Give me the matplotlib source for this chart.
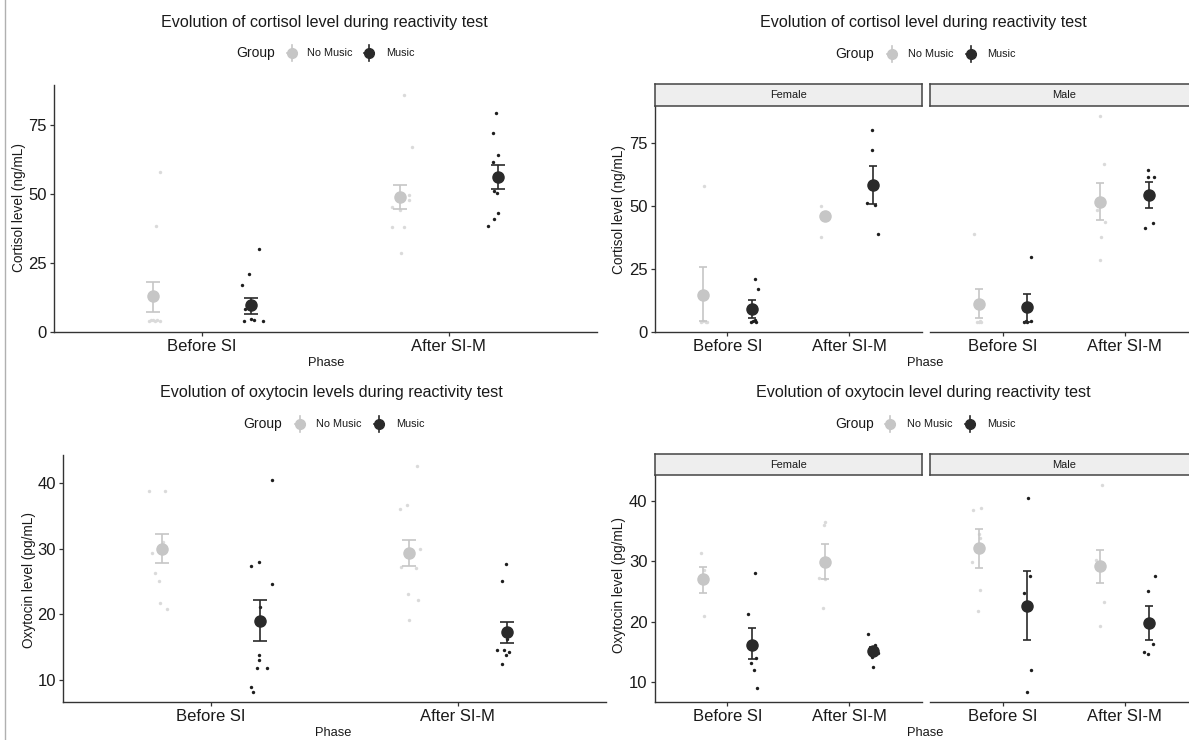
import matplotlib
matplotlib.use("Agg")
import matplotlib.pyplot as plt
import numpy as np

plt.rcParams['font.family'] = ['Liberation Sans', 'DejaVu Sans']

W, H = 1189, 740

phases = ["Before SI", "After SI-M"]
groups = ["No Music", "Music"]

# order of every list below: No Music/Before, Music/Before, No Music/After, Music/After
# --- cortisol, all subjects ---
cort_all_pts = [[57.8, 38.5, 4.0, 4.1, 4.3, 3.9, 4.2, 4.0],
                [30.1, 21.1, 17.1, 8.4, 4.0, 4.5, 4.0, 4.2],
                [85.8, 67.1, 49.6, 47.9, 45.4, 44.2, 38.0, 38.0, 28.7],
                [79.5, 72.2, 64.2, 61.4, 51.2, 50.2, 43.0, 40.9, 38.5]]
cort_all_jit = [[0.028, 0.012, -0.016, 0.0, 0.019, 0.031, -0.008, 0.008],
                [0.031, -0.008, -0.039, -0.026, -0.031, -0.003, 0.048, 0.01],
                [0.018, 0.051, 0.038, 0.038, -0.03, 0.0, -0.03, 0.018, 0.004],
                [-0.01, -0.023, 0.0, -0.02, -0.017, -0.005, -0.003, -0.016, -0.04]]
cort_all_mean = [12.9, 9.6, 48.8, 56.2]
cort_all_lo = [7.2, 6.6, 44.5, 51.8]
cort_all_hi = [18.1, 12.4, 53.2, 60.6]

# --- cortisol, female ---
cort_fem_pts = [[57.8, 4.0, 4.1, 3.9, 4.0],
                [21.0, 17.1, 4.0, 4.2, 4.6, 3.9],
                [49.7, 37.7, 46.2, 47.6, 46.9, 46.1],
                [79.8, 72.2, 51.1, 50.1, 38.7]]
cort_fem_jit = [[0.01, -0.02, 0.0, 0.02, 0.03],
                [0.027, 0.049, -0.01, 0.01, 0.027, 0.035],
                [-0.033, -0.033, -0.01, 0.01, 0.0, 0.02],
                [-0.014, -0.008, -0.049, 0.014, 0.038]]
cort_fem_mean = [14.7, 9.0, 45.7, 58.3]
cort_fem_lo = [4.1, 5.4, 44.4, 50.7]
cort_fem_hi = [25.7, 12.4, 47.0, 65.8]

# --- cortisol, male ---
cort_male_pts = [[38.6, 3.9, 4.0, 4.2, 4.0],
                 [29.8, 4.0, 4.2, 3.9, 4.1],
                 [85.4, 66.7, 48.2, 43.6, 37.7, 28.5],
                 [64.3, 61.4, 61.4, 41.0, 43.0]]
cort_male_jit = [[-0.041, -0.01, 0.0, 0.015, 0.02],
                 [0.027, -0.027, 0.027, 0.0, -0.014],
                 [-0.005, 0.027, -0.027, 0.041, 0.005, 0.0],
                 [-0.008, -0.008, 0.046, -0.03, 0.038]]
cort_male_mean = [11.0, 9.8, 51.5, 54.3]
cort_male_lo = [5.5, 3.9, 44.3, 49.2]
cort_male_hi = [17.1, 15.0, 58.8, 59.5]

# --- oxytocin, all subjects ---
oxy_all_pts = [[38.8, 38.8, 29.3, 26.3, 25.1, 21.7, 20.8, 31.0],
               [40.5, 28.0, 27.4, 24.7, 21.2, 13.8, 13.05, 11.9, 11.9, 9.0, 8.1],
               [42.6, 36.7, 36.1, 30.0, 27.2, 27.1, 23.1, 22.2, 19.2],
               [27.7, 25.1, 16.2, 14.6, 14.6, 14.3, 13.8, 12.4]]
oxy_all_jit = [[-0.05, 0.013, -0.04, -0.027, -0.01, -0.007, 0.023, 0.005],
               [0.048, -0.006, -0.037, 0.045, 0.0, -0.006, -0.006, -0.014, 0.026, -0.04, -0.03],
               [0.035, -0.008, -0.035, 0.046, -0.031, 0.03, -0.004, 0.039, 0.001],
               [-0.006, -0.022, 0.0, -0.04, -0.012, 0.006, -0.006, -0.022]]
oxy_all_mean = [30.0, 19.0, 29.4, 17.3]
oxy_all_lo = [27.9, 16.0, 27.4, 15.7]
oxy_all_hi = [32.3, 22.2, 31.3, 18.9]

# --- oxytocin, female ---
oxy_fem_pts = [[31.4, 21.0, 27.5, 28.6],
               [28.1, 21.2, 13.2, 13.9, 12.0, 9.0],
               [36.5, 36.0, 27.2, 22.3, 27.0],
               [17.9, 16.2, 14.2, 14.8, 15.2, 12.5]]
oxy_fem_jit = [[-0.016, 0.011, -0.01, 0.01],
               [0.025, -0.03, -0.003, 0.036, 0.022, 0.044],
               [0.003, -0.005, -0.044, -0.016, 0.0],
               [-0.047, 0.014, -0.014, 0.036, -0.027, -0.005]]
oxy_fem_mean = [27.0, 16.2, 29.8, 15.1]
oxy_fem_lo = [24.7, 13.8, 27.0, 14.4]
oxy_fem_hi = [29.1, 19.0, 32.8, 15.8]

# --- oxytocin, male ---
oxy_male_pts = [[38.5, 38.8, 29.8, 25.3, 21.7, 34.5, 33.9],
                [40.4, 27.5, 24.8, 12.0, 8.3],
                [42.6, 30.2, 23.2, 19.3, 29.5],
                [27.6, 25.1, 16.3, 14.9, 14.6]]
oxy_male_jit = [[-0.044, 0.022, -0.052, 0.011, -0.005, 0.0, 0.01],
                [0.008, 0.022, -0.027, 0.027, 0.0],
                [0.014, -0.036, 0.027, 0.0, 0.0],
                [0.047, -0.008, 0.038, -0.036, -0.011]]
oxy_male_mean = [32.1, 22.6, 29.2, 19.7]
oxy_male_lo = [28.9, 16.9, 26.4, 16.9]
oxy_male_hi = [35.3, 28.4, 31.9, 22.5]

raw_col = ['#dadada', '#1e1e1e']
mean_col = ['#c6c6c6', '#2a2a2a']
axis_col = '#333333'
text_col = '#1a1a1a'

fig = plt.figure(figsize=(W / 100, H / 100), dpi=100)


def add_ax(x0, x1, y0, y1):
    return fig.add_axes([x0 / W, 1 - y1 / H, (x1 - x0) / W, (y1 - y0) / H])


def ftext(x, y, s, **kw):
    fig.text(x / W, 1 - y / H, s, color=text_col, **kw)


def draw_panel(ax, pts, jit, mean, lo, hi, ylim, yticks, show_y, cap):
    for i in range(4):
        g = i % 2
        xc = i // 2 + 1 + (-0.2 if g == 0 else 0.2)
        ax.scatter(xc + np.array(jit[i]), pts[i], s=6, color=raw_col[g],
                   linewidths=0, zorder=2)
        ax.errorbar(xc, mean[i], yerr=[[mean[i] - lo[i]], [hi[i] - mean[i]]],
                    fmt='o', ms=8, color=mean_col[g], ecolor=mean_col[g],
                    elinewidth=1.2, capthick=1.2, capsize=cap, zorder=3)
    ax.set_xlim(0.4, 2.6)
    ax.set_ylim(*ylim)
    ax.set_xticks([1, 2])
    ax.set_xticklabels(phases)
    for s in ['top', 'right']:
        ax.spines[s].set_visible(False)
    ax.spines['bottom'].set_color(axis_col)
    ax.spines['bottom'].set_linewidth(1.0)
    if show_y:
        ax.spines['left'].set_color(axis_col)
        ax.spines['left'].set_linewidth(1.0)
        ax.set_yticks(yticks)
    else:
        ax.spines['left'].set_visible(False)
        ax.set_yticks([])
    ax.tick_params(length=3, width=0.9, color=axis_col, labelsize=12,
                   labelcolor=text_col, pad=2)
    ax.patch.set_alpha(0)


def strip(x0, x1, y0, y1, label):
    s = add_ax(x0, x1, y0, y1)
    s.set_facecolor('#eeeeee')
    s.set_xticks([])
    s.set_yticks([])
    for sp in s.spines.values():
        sp.set_color('#444444')
        sp.set_linewidth(1.1)
    s.text(0.5, 0.5, label, transform=s.transAxes, ha='center', va='center',
           fontsize=7.9, color=text_col)


def legend(gx, y, k1, t1, k2, t2):
    ftext(gx, y, "Group", fontsize=10, ha='center', va='center')
    for kx, g in [(k1, 0), (k2, 1)]:
        bg.plot([kx, kx], [y - 8, y + 8], color=mean_col[g], lw=1.2)
        bg.plot([kx - 5, kx + 5], [y, y], color=mean_col[g], lw=1.2)
        bg.plot(kx, y, 'o', ms=7, color=mean_col[g])
    ftext(t1, y, "No Music", fontsize=7.8, ha='left', va='center')
    ftext(t2, y, "Music", fontsize=7.8, ha='left', va='center')


# background overlay in pixel coords for border and legend keys
bg = fig.add_axes([0, 0, 1, 1])
bg.set_xlim(0, W)
bg.set_ylim(H, 0)
bg.axis('off')
bg.plot([5, 5], [0, H], color='#b0b0b0', lw=1)

cort_lim = (-0.1, 89.5)
oxy_lim_l = (6.64, 44.3)
oxy_lim_r = (6.7, 44.25)
cap_big = 5.3
cap_small = 2.8
title_fs = 11.6
lab_fs = 9.8

# top-left: cortisol, all subjects
ax = add_ax(54, 597, 85, 332)
draw_panel(ax, cort_all_pts, cort_all_jit, cort_all_mean, cort_all_lo, cort_all_hi,
           cort_lim, [0, 25, 50, 75], True, cap_big)
ftext(324, 22, "Evolution of cortisol level during reactivity test", fontsize=title_fs,
      ha='center', va='center')
legend(256, 53, 292, 307, 369, 386)
ftext(19, 208, "Cortisol level (ng/mL)", fontsize=lab_fs, rotation=90,
      ha='center', va='center')
ftext(326, 363, "Phase", fontsize=9.3, ha='center', va='center')

# top-right: cortisol by sex
ax = add_ax(654.5, 922, 106, 332)
draw_panel(ax, cort_fem_pts, cort_fem_jit, cort_fem_mean, cort_fem_lo, cort_fem_hi,
           cort_lim, [0, 25, 50, 75], True, cap_small)
ax = add_ax(930, 1197.5, 106, 332)
draw_panel(ax, cort_male_pts, cort_male_jit, cort_male_mean, cort_male_lo, cort_male_hi,
           cort_lim, [0, 25, 50, 75], False, cap_small)
strip(654.5, 922, 84, 106, "Female")
strip(930, 1197.5, 84, 106, "Male")
ftext(923, 23, "Evolution of cortisol level during reactivity test", fontsize=title_fs,
      ha='center', va='center')
legend(855, 54, 892, 908, 971, 987)
ftext(619, 210, "Cortisol level (ng/mL)", fontsize=lab_fs, rotation=90,
      ha='center', va='center')
ftext(925, 363, "Phase", fontsize=9.3, ha='center', va='center')

# bottom-left: oxytocin, all subjects
ax = add_ax(63, 606, 455, 702)
draw_panel(ax, oxy_all_pts, oxy_all_jit, oxy_all_mean, oxy_all_lo, oxy_all_hi,
           oxy_lim_l, [10, 20, 30, 40], True, cap_big)
ftext(331, 393, "Evolution of oxytocin levels during reactivity test", fontsize=title_fs,
      ha='center', va='center')
legend(263, 424, 300, 316, 379, 396)
ftext(29, 580, "Oxytocin level (pg/mL)", fontsize=lab_fs, rotation=90,
      ha='center', va='center')
ftext(333, 733, "Phase", fontsize=9.3, ha='center', va='center')

# bottom-right: oxytocin by sex
ax = add_ax(654.5, 922, 475, 702)
draw_panel(ax, oxy_fem_pts, oxy_fem_jit, oxy_fem_mean, oxy_fem_lo, oxy_fem_hi,
           oxy_lim_r, [10, 20, 30, 40], True, cap_small)
ax = add_ax(930, 1197.5, 475, 702)
draw_panel(ax, oxy_male_pts, oxy_male_jit, oxy_male_mean, oxy_male_lo, oxy_male_hi,
           oxy_lim_r, [10, 20, 30, 40], False, cap_small)
strip(654.5, 922, 454, 475, "Female")
strip(930, 1197.5, 454, 475, "Male")
ftext(923, 393, "Evolution of oxytocin level during reactivity test", fontsize=title_fs,
      ha='center', va='center')
legend(855, 424, 890, 907, 970, 987)
ftext(619, 585, "Oxytocin level (pg/mL)", fontsize=lab_fs, rotation=90,
      ha='center', va='center')
ftext(925, 733, "Phase", fontsize=9.3, ha='center', va='center')

fig.savefig("out.png", dpi=100)
